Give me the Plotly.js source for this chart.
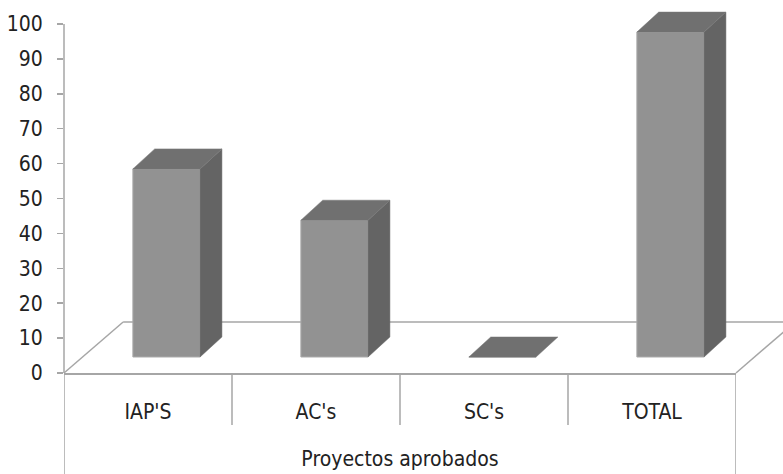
<!DOCTYPE html>
<html>
<head>
<meta charset="utf-8">
<script src="https://cdn.plot.ly/plotly-3.0.1.min.js"></script>
<style>html,body{margin:0;padding:0;background:#fff;}#chart{width:783px;height:474px;}</style>
</head>
<body>
<div id="chart"></div>
<script>
// ---- data ----
const categories = ["IAP'S", "AC's", "SC's", "TOTAL"];
const values = [55, 40, 0, 95];
const yTicks = [0, 10, 20, 30, 40, 50, 60, 70, 80, 90, 100];
const xTitle = "Proyectos aprobados";

// ---- style constants ----
const FONT = "'DejaVu Sans Condensed', 'Liberation Sans Narrow', sans-serif";
const FRONT = "#929292", TOP = "#707070", SIDE = "#646464", EDGE = "#a6a6a6";
const BAR_W = 0.4;      // bar width in category units
const DX = 0.13;        // depth offset in category units
const DY = 5.85;        // depth offset in value units

const idx = categories.map((c, i) => i);

// build side and top faces from data
const topX = [], topY = [], sideX = [], sideY = [];
idx.forEach(i => {
  const v = values[i], l = i - BAR_W / 2, r = i + BAR_W / 2;
  topX.push(l, r, r + DX, l + DX, l, null);
  topY.push(v, v, v + DY, v + DY, v, null);
  if (v > 0) {
    sideX.push(r, r + DX, r + DX, r, r, null);
    sideY.push(0, DY, v + DY, v, 0, null);
  }
});

const traces = [
  {type: 'bar', x: idx, y: values, width: BAR_W, xaxis: 'x2', yaxis: 'y2',
   marker: {color: FRONT, line: {color: '#a9a9a9', width: 1}}, hoverinfo: 'skip'},
  {type: 'scatter', mode: 'lines', x: sideX, y: sideY, xaxis: 'x2', yaxis: 'y2',
   fill: 'toself', fillcolor: SIDE, line: {color: '#6a6a6a', width: 0.5}, hoverinfo: 'skip'},
  {type: 'scatter', mode: 'lines', x: topX, y: topY, xaxis: 'x2', yaxis: 'y2',
   fill: 'toself', fillcolor: TOP, line: {color: '#777777', width: 0.5}, hoverinfo: 'skip'}
];

// floor (decoration, paper coordinates; plot area spans y 5..373 px)
const H = 368;
const fy = 51 / H;
const fl = {color: EDGE, width: 1.5};
const shapes = [
  {type: 'line', xref: 'paper', yref: 'paper', x0: 0, y0: 0, x1: 0.088, y1: fy, line: fl, layer: 'below'},
  {type: 'line', xref: 'paper', yref: 'paper', x0: 0.088, y0: fy, x1: 1.1, y1: fy, line: fl, layer: 'below'},
  {type: 'line', xref: 'paper', yref: 'paper', x0: 1, y0: 0, x1: 1.088, y1: fy, line: fl, layer: 'below'},
  // value axis line from 0 to 100
  {type: 'line', xref: 'paper', yref: 'y', x0: 0, x1: 0, y0: yTicks[0], y1: yTicks[yTicks.length - 1],
   line: {color: EDGE, width: 1.5}}
];
// category dividers below the axis
[-0.5, 0.5, 1.5, 2.5, 3.5].forEach((b, k) => {
  const outer = (k === 0 || k === 4);
  shapes.push({type: 'line', xref: 'x', yref: 'paper', x0: b, x1: b, y0: 0, y1: outer ? -101 / H : -52 / H,
               line: {color: EDGE, width: 1.5}});
});

const layout = {
  width: 783, height: 474,
  margin: {l: 64, r: 47, t: 5, b: 101},
  paper_bgcolor: '#fff', plot_bgcolor: 'rgba(0,0,0,0)',
  showlegend: false,
  font: {family: FONT, size: 21, color: '#222'},
  xaxis: {range: [-0.5, 3.5], tickvals: idx, ticktext: categories, ticks: '',
          showgrid: false, zeroline: false, showline: true, linecolor: EDGE, linewidth: 2,
          ticklabelstandoff: 19, tickfont: {family: FONT, size: 21, color: '#222'},
          title: {text: xTitle, standoff: 28, font: {family: FONT, size: 21, color: '#222'}},
          automargin: false, fixedrange: true},
  yaxis: {range: [0, 105.44], tickvals: yTicks, ticks: 'outside', ticklen: 6, tickcolor: EDGE, tickwidth: 1.5,
          showgrid: false, zeroline: false, showline: false,
          ticklabelstandoff: 10, tickfont: {family: FONT, size: 21, color: '#222'},
          automargin: false, fixedrange: true},
  xaxis2: {overlaying: 'x', range: [-0.61, 3.39], visible: false, fixedrange: true},
  yaxis2: {overlaying: 'y', range: [-4.68, 102.92], visible: false, fixedrange: true},
  shapes: shapes
};

Plotly.newPlot('chart', traces, layout, {staticPlot: true, displayModeBar: false});
</script>
</body>
</html>
